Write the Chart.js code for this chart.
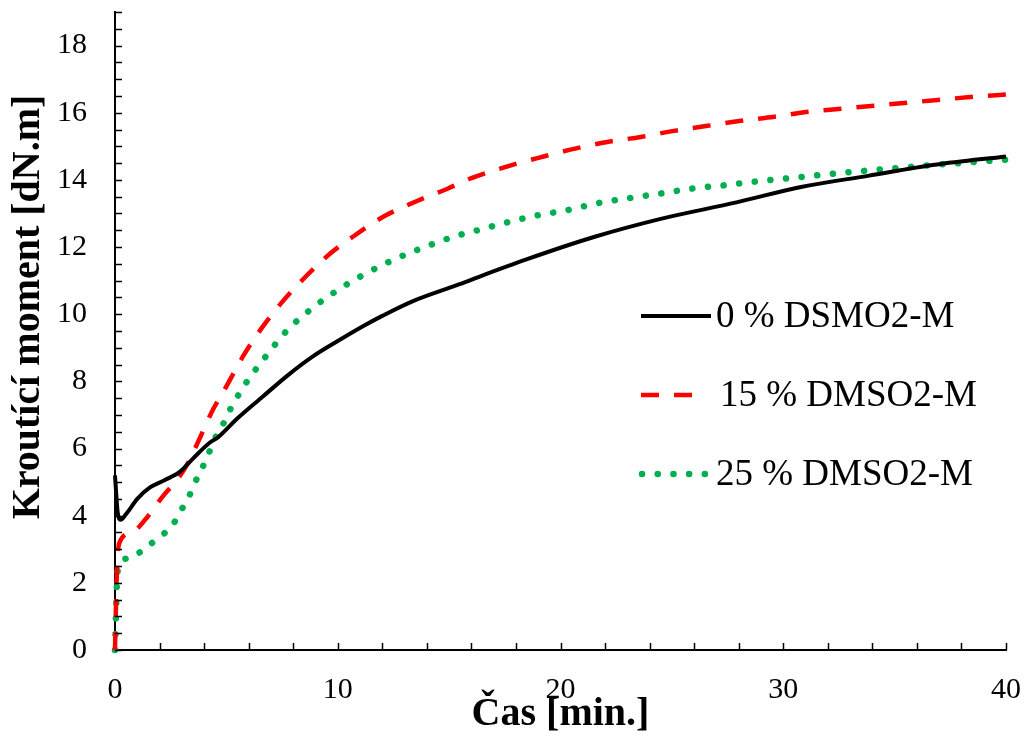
<!DOCTYPE html>
<html>
<head>
<meta charset="utf-8">
<script src="https://cdn.jsdelivr.net/npm/chart.js@4/dist/chart.umd.min.js"></script>
<style>
    body { margin: 0; background: #fff; }
    canvas { display: block; }
</style>
</head>
<body>
<canvas id="torque-chart" width="1025" height="739"></canvas>
<script>
// DATA (čas v min, kroutící moment v dN.m)
const time0 = [0, 0.05, 0.12, 0.25, 0.5, 1, 1.57, 2.2, 2.92, 3.5, 4.26, 4.62, 5.5, 6.64, 7.7, 8.9, 10, 11.13, 12, 13.38, 15.5, 16.4, 18.5, 21.5, 24.5, 27.9, 30.8, 33.8, 36.8, 40];
const torque0 = [5.2, 4.7, 4.1, 3.88, 4.05, 4.5, 4.84, 5.05, 5.31, 5.7, 6.18, 6.33, 6.9, 7.55, 8.15, 8.75, 9.2, 9.64, 9.95, 10.39, 10.9, 11.13, 11.64, 12.3, 12.84, 13.33, 13.79, 14.12, 14.45, 14.7];

const time15 = [0, 0.05, 0.1, 0.2, 0.8, 1.5, 2.1, 2.9, 3.3, 3.82, 4.4, 5.0, 5.75, 6.6, 7.5, 8.53, 9.65, 10.86, 12.12, 13.56, 14.9, 16.0, 17.7, 19.2, 20.65, 22.1, 23.6, 25.1, 26.6, 28.1, 29.6, 31.1, 32.6, 34.1, 35.6, 37.1, 38.6, 40];
const torque15 = [0, 1.5, 2.6, 3.2, 3.52, 4.0, 4.54, 5.17, 5.6, 6.33, 7.16, 7.85, 8.75, 9.6, 10.36, 11.1, 11.8, 12.39, 12.93, 13.37, 13.73, 14.05, 14.42, 14.69, 14.93, 15.13, 15.28, 15.46, 15.61, 15.76, 15.88, 16.03, 16.12, 16.21, 16.3, 16.39, 16.48, 16.54];

const time25 = [0, 0.05, 0.1, 0.2, 0.8, 1.43, 2.0, 2.55, 2.9, 3.3, 3.6, 3.9, 4.2, 4.49, 4.85, 5.16, 5.9, 6.78, 7.7, 8.8, 10, 11.2, 12.57, 13.9, 15.26, 16.0, 17.4, 18.85, 20.3, 21.7, 23.1, 24.55, 26.0, 27.5, 28.2, 30.4, 32.5, 34.7, 36.9, 39.1, 40];
const torque25 = [0, 1.2, 2.2, 2.54, 2.78, 3.07, 3.37, 3.68, 4.09, 4.54, 5.0, 5.4, 5.85, 6.3, 6.72, 7.15, 7.97, 8.75, 9.5, 10.15, 10.72, 11.19, 11.64, 12.0, 12.32, 12.45, 12.7, 12.93, 13.1, 13.31, 13.46, 13.6, 13.75, 13.85, 13.91, 14.06, 14.2, 14.33, 14.45, 14.56, 14.6];

const seriesNames = ['0 % DSMO2-M', '15 % DMSO2-M', '25 % DMSO2-M'];
const xTicks = [0, 10, 20, 30, 40];
const yTicks = [0, 2, 4, 6, 8, 10, 12, 14, 16, 18];
const yTitle = 'Kroutící moment [dN.m]';

const SERIF = '"Liberation Serif", "Times New Roman", serif';

function toPoints(xs, ys) {
    return xs.map((x, i) => ({ x: x, y: ys[i] }));
}

// inner tick marks on both axes
const innerTicks = {
    id: 'innerTicks',
    afterDraw(chart) {
        const ctx = chart.ctx;
        const xs = chart.scales.x;
        const ys = chart.scales.y;
        ctx.save();
        ctx.strokeStyle = '#000';
        ctx.lineWidth = 1.5;
        ctx.beginPath();
        for (let v = 0; v <= 19.001; v += 0.5) {
            const py = Math.round(ys.getPixelForValue(v)) + 0.5;
            ctx.moveTo(xs.left, py);
            ctx.lineTo(xs.left + 7, py);
        }
        for (let v = 2; v <= 40.001; v += 2) {
            const px = Math.round(xs.getPixelForValue(v)) + 0.5;
            ctx.moveTo(px, ys.bottom);
            ctx.lineTo(px, ys.bottom - 7);
        }
        ctx.stroke();

        // y title sits a bit above the axis centre in the original
        ctx.translate(29, 307);
        ctx.rotate(-Math.PI / 2);
        ctx.fillStyle = '#000';
        ctx.font = 'bold 40px ' + SERIF;
        ctx.textAlign = 'center';
        ctx.textBaseline = 'middle';
        ctx.fillText(yTitle, 0, 0);
        ctx.restore();
    }
};

// legend inside the plot, like the original
const innerLegend = {
    id: 'innerLegend',
    afterDraw(chart) {
        const ctx = chart.ctx;
        const rows = [316, 395, 474];
        ctx.save();
        chart.data.datasets.forEach((ds, i) => {
            const y = rows[i];
            ctx.strokeStyle = ds.borderColor;
            ctx.lineWidth = ds.borderWidth;
            ctx.lineCap = ds.borderCapStyle || 'butt';
            ctx.setLineDash(ds.borderDash || []);
            ctx.beginPath();
            if (i === 2) {
                ctx.moveTo(642, y);
                ctx.lineTo(712, y);
            } else if (i === 1) {
                ctx.moveTo(641, y);
                ctx.lineTo(693, y);
            } else {
                ctx.moveTo(641, y);
                ctx.lineTo(711, y);
            }
            ctx.stroke();
            ctx.setLineDash([]);
            ctx.fillStyle = '#000';
            ctx.font = '37px ' + SERIF;
            ctx.textBaseline = 'middle';
            ctx.textAlign = 'left';
            ctx.fillText(ds.label, i === 1 ? 720 : 716, y + 1);
        });
        ctx.restore();
    }
};

window.addEventListener('load', function () {
    torqueChart();
});

function torqueChart() {
    const ctx = document.getElementById('torque-chart').getContext('2d');
    new Chart(ctx, {
        type: 'line',
        data: {
            datasets: [{
                label: seriesNames[0],
                data: toPoints(time0, torque0),
                borderColor: '#000000',
                borderWidth: 4,
                borderDash: [],
                borderCapStyle: 'butt'
            }, {
                label: seriesNames[1],
                data: toPoints(time15, torque15),
                borderColor: '#FF0000',
                borderWidth: 4.5,
                borderDash: [18, 15],
                borderCapStyle: 'butt'
            }, {
                label: seriesNames[2],
                data: toPoints(time25, torque25),
                borderColor: '#00B050',
                borderWidth: 6.5,
                borderDash: [0.1, 15.6],
                borderCapStyle: 'round'
            }]
        },
        options: {
            responsive: false,
            animation: false,
            devicePixelRatio: 1,
            layout: { padding: { left: 0, right: 19, top: 12, bottom: 0 } },
            elements: {
                point: { radius: 0 },
                line: { cubicInterpolationMode: 'monotone', fill: false }
            },
            datasets: { line: { clip: 8 } },
            scales: {
                x: {
                    type: 'linear',
                    min: 0,
                    max: 40,
                    grid: { display: false, drawTicks: false },
                    border: { display: true, color: '#000', width: 2 },
                    ticks: {
                        padding: 22,
                        color: '#000',
                        maxRotation: 0,
                        font: { family: SERIF, size: 30 }
                    },
                    afterBuildTicks(scale) { scale.ticks = xTicks.map(v => ({ value: v })); },
                    title: {
                        display: true,
                        text: 'Čas [min.]',
                        color: '#000',
                        padding: { top: 0, bottom: 0 },
                        font: { family: SERIF, size: 40, weight: 'bold' }
                    },
                    afterFit(scale) {
                        scale.height = 89;
                        scale.paddingLeft = 0;
                        scale.paddingRight = 0;
                    }
                },
                y: {
                    min: 0,
                    max: 19,
                    grid: { display: false, drawTicks: false },
                    border: { display: true, color: '#000', width: 2 },
                    ticks: {
                        padding: 28,
                        color: '#000',
                        font: { family: SERIF, size: 30 }
                    },
                    afterBuildTicks(scale) { scale.ticks = yTicks.map(v => ({ value: v })); },
                    afterFit(scale) {
                        scale.width = 115;
                        scale.paddingTop = 0;
                        scale.paddingBottom = 0;
                    }
                }
            },
            plugins: {
                legend: { display: false },
                tooltip: { enabled: false }
            }
        },
        plugins: [innerTicks, innerLegend]
    });
}
</script>
</body>
</html>
